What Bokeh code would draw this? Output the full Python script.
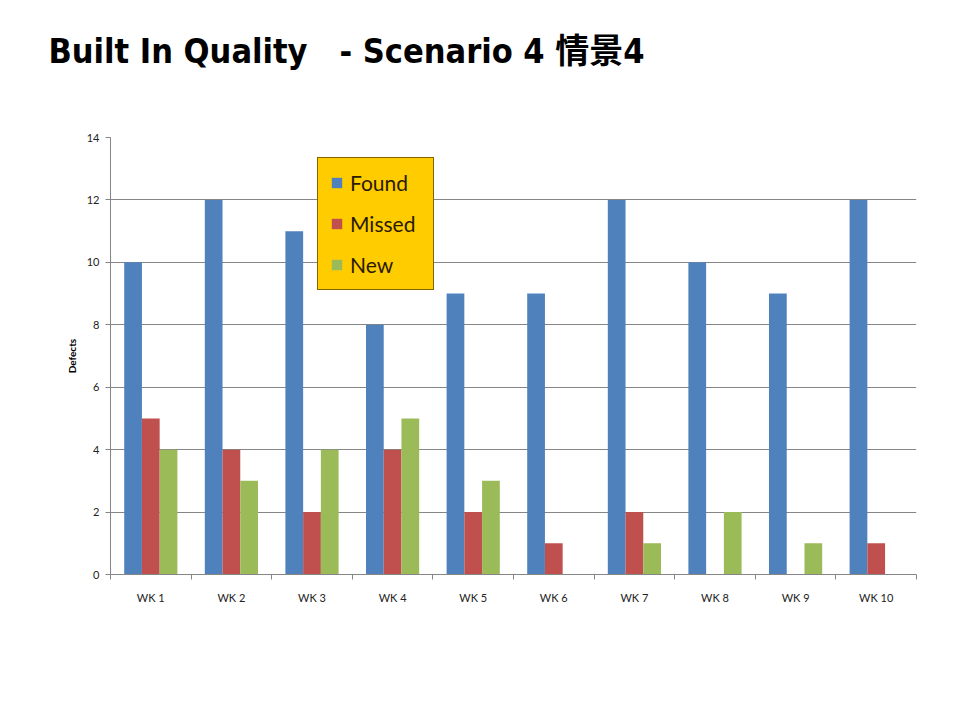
from bokeh.plotting import figure
from bokeh.layouts import column
from bokeh.models import (ColumnDataSource, FixedTicker, Range1d, Legend, LegendItem, Spacer)
from bokeh.transform import dodge
from bokeh.embed import file_html
from bokeh.resources import INLINE

weeks = ["WK 1", "WK 2", "WK 3", "WK 4", "WK 5", "WK 6", "WK 7", "WK 8", "WK 9", "WK 10"]
found = [10, 12, 11, 8, 9, 9, 12, 10, 9, 12]
missed = [5, 4, 2, 4, 2, 1, 2, 0, 0, 1]
new = [4, 3, 4, 5, 3, 0, 1, 2, 1, 0]
y_ticks = [0, 2, 4, 6, 8, 10, 12, 14]
title_text = "Built In Quality\u00a0\u00a0\u00a0- Scenario\u00a04 \u60c5\u666f4"

W = 952
TOP_GAP = 23
TH = 77

# ---- title strip ----
pt = figure(width=W, height=TH, output_backend="svg", toolbar_location=None,
            x_range=Range1d(0, 1), y_range=Range1d(0, 1),
            x_axis_type=None, y_axis_type=None,
            min_border_left=110, min_border_right=36, min_border_top=0, min_border_bottom=0)
pt.grid.visible = False
pt.outline_line_color = None
pt.border_fill_color = "white"
pt.background_fill_color = "white"
pt.title.text = title_text
pt.title.text_font = "DejaVu Sans Condensed, Noto Sans CJK SC"
pt.title.text_font_size = "34px"
pt.title.text_font_style = "bold"
pt.title.text_color = "black"
pt.title.align = "left"
pt.title.offset = -62
pt.title.standoff = 10

# ---- chart ----
pos = [i + 0.5 for i in range(len(weeks))]
src = ColumnDataSource(dict(x=pos, found=found, missed=missed, new=new))

p = figure(width=W, height=712 - TH - TOP_GAP, output_backend="svg", toolbar_location=None,
           x_range=Range1d(0, len(weeks)), y_range=Range1d(0, 14),
           min_border_left=110, min_border_right=36, min_border_top=137 - TH - TOP_GAP,
           min_border_bottom=138)
p.outline_line_color = None
p.background_fill_color = "white"
p.border_fill_color = "white"

bw = 0.22
r1 = p.vbar(x=dodge("x", -bw, range=p.x_range), top="found", width=bw, source=src,
            fill_color="#4F81BD", line_color=None)
r2 = p.vbar(x=dodge("x", 0, range=p.x_range), top="missed", width=bw, source=src,
            fill_color="#C0504D", line_color=None)
r3 = p.vbar(x=dodge("x", bw, range=p.x_range), top="new", width=bw, source=src,
            fill_color="#9BBB59", line_color=None)

# x axis
xa = p.xaxis[0]
xa.ticker = FixedTicker(ticks=pos, minor_ticks=list(range(len(weeks) + 1)))
xa.major_label_overrides = {p_: w for p_, w in zip(pos, weeks)}
xa.major_tick_out = 0
xa.major_tick_in = 0
xa.minor_tick_out = 5
xa.minor_tick_in = 0
xa.minor_tick_line_color = "#868686"
xa.axis_line_color = "#868686"
xa.major_label_text_font = "Lato"
xa.major_label_text_font_size = "11px"
xa.major_label_text_color = "#222222"
xa.major_label_standoff = 11

# y axis
ya = p.yaxis[0]
ya.ticker = FixedTicker(ticks=y_ticks)
ya.minor_tick_line_color = None
ya.major_tick_out = 5
ya.major_tick_in = 0
ya.major_tick_line_color = "#868686"
ya.axis_line_color = "#868686"
ya.major_label_text_font = "Lato"
ya.major_label_text_font_size = "11px"
ya.major_label_text_color = "#222222"
ya.major_label_standoff = 6
ya.axis_label = "Defects"
ya.axis_label_text_font = "Lato"
ya.axis_label_text_font_size = "10px"
ya.axis_label_text_font_style = "bold"
ya.axis_label_text_color = "black"
ya.axis_label_standoff = 6

p.xgrid.grid_line_color = None
p.ygrid.ticker = FixedTicker(ticks=y_ticks)
p.ygrid.grid_line_color = "#868686"
p.ygrid.grid_line_width = 1

legend = Legend(items=[LegendItem(label="Found", renderers=[r1]),
                       LegendItem(label="Missed", renderers=[r2]),
                       LegendItem(label="New", renderers=[r3])],
                location=(207, 284))
legend.background_fill_color = "#FFCC00"
legend.background_fill_alpha = 1
legend.border_line_color = "black"
legend.border_line_width = 1
legend.label_text_font = "Lato"
legend.label_text_font_size = "21px"
legend.label_text_color = "#2a1a00"
legend.glyph_width = 13
legend.glyph_height = 13
legend.label_height = 22
legend.label_width = 71
legend.label_standoff = 7
legend.spacing = 16
legend.padding = 12
legend.margin = 0
p.add_layout(legend, "center")

layout = column(Spacer(width=W, height=TOP_GAP), pt, p, spacing=0)
open("out.html", "w").write(file_html(layout, INLINE))
